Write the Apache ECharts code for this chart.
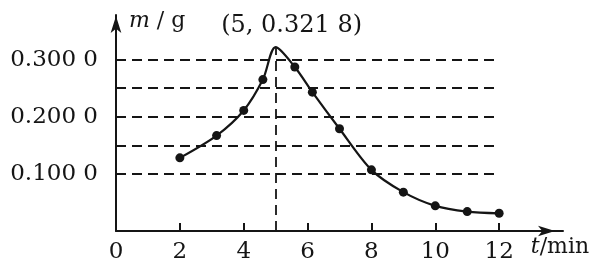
<!DOCTYPE html>
<html>
<head>
<meta charset="utf-8">
<script src="https://cdn.jsdelivr.net/npm/echarts@6/dist/echarts.min.js"></script>
<style>html,body{margin:0;padding:0;background:#fff}#c{width:595px;height:264px}</style>
</head>
<body>
<div id="c"></div>
<script>
// data
var times  = [2, 3.15, 4, 4.6, 5, 5.6, 6.15, 7, 8, 9, 10, 11, 12];
var masses = [0.128, 0.167, 0.211, 0.265, 0.3218, 0.287, 0.243, 0.179, 0.107, 0.068, 0.044, 0.034, 0.031];
var peakIndex = 4;            // (5, 0.3218) drawn without a dot
var peakLabel = '(5, 0.321 8)';
var xTickValues = [2, 4, 6, 8, 10, 12];
var xLabelValues = [0, 2, 4, 6, 8, 10, 12];
var yLabelValues = [0.1, 0.2, 0.3];
var yLabelTexts = {'0.1': '0.100 0', '0.2': '0.200 0', '0.3': '0.300 0'};
var dashedLevels = [0.1, 0.15, 0.2, 0.25, 0.3];
var xMax = 14, yMax = 0.378;

var FONT = 'DejaVu Serif';
var INK = '#151515';

var seriesData = times.map(function (t, i) {
  var item = {value: [t, masses[i]]};
  if (i === peakIndex) item.symbol = 'none';
  return item;
});

var markLines = dashedLevels.map(function (v) {
  return [{coord: [0, v]}, {coord: [xTickValues[xTickValues.length - 1], v]}];
});
markLines.push([{coord: [times[peakIndex], 0]}, {coord: [times[peakIndex], masses[peakIndex]]}]);

var chart = echarts.init(document.getElementById('c'), null, {renderer: 'canvas'});
chart.setOption({
  animation: false,
  backgroundColor: '#fff',
  grid: {left: 116, right: 32, top: 15, bottom: 33, containLabel: false},
  xAxis: {
    type: 'value', min: 0, max: xMax,
    name: '{i|t}/min',
    nameLocation: 'end', nameGap: -3,
    nameTextStyle: {
      fontFamily: FONT, fontSize: 22, color: INK, align: 'center', verticalAlign: 'middle',
      padding: [32, 0, 0, 0],
      rich: {i: {fontFamily: FONT, fontSize: 22, fontStyle: 'italic', color: INK}}
    },
    axisLine: {lineStyle: {color: INK, width: 2}, symbol: ['none', 'arrow'], symbolSize: [8, 17], symbolOffset: [0, -8]},
    axisTick: {show: true, inside: true, length: 8, lineStyle: {color: INK, width: 2}, customValues: xTickValues},
    axisLabel: {customValues: xLabelValues, fontFamily: FONT, fontSize: 23, color: INK, margin: 10},
    splitLine: {show: false}
  },
  yAxis: {
    type: 'value', min: 0, max: yMax,
    name: '{i|m} / g',
    nameLocation: 'end', nameGap: -6,
    nameTextStyle: {
      fontFamily: FONT, fontSize: 22, color: INK, align: 'left', verticalAlign: 'middle',
      padding: [0, 0, 0, 13],
      rich: {i: {fontFamily: FONT, fontSize: 22, fontStyle: 'italic', color: INK}}
    },
    axisLine: {show: true, lineStyle: {color: INK, width: 2}, symbol: ['none', 'arrow'], symbolSize: [8, 17], symbolOffset: [0, -1]},
    axisTick: {show: false},
    axisLabel: {
      customValues: yLabelValues, fontFamily: FONT, fontSize: 23, color: INK, margin: 18,
      formatter: function (v) { return yLabelTexts[String(Math.round(v * 10) / 10)] || ''; }
    },
    splitLine: {show: false}
  },
  series: [{
    type: 'line',
    data: seriesData,
    smooth: 0.3,
    symbol: 'circle',
    symbolSize: 9,
    itemStyle: {color: INK},
    lineStyle: {color: INK, width: 2.2},
    z: 5,
    markLine: {
      silent: true, symbol: ['none', 'none'], label: {show: false},
      lineStyle: {color: INK, type: [10, 6], width: 1.8},
      data: markLines
    },
    markPoint: {
      symbol: 'circle', symbolSize: 0,
      data: [{coord: [times[peakIndex], masses[peakIndex]]}],
      label: {show: true, formatter: peakLabel, position: 'inside', offset: [16, -21],
        fontFamily: FONT, fontSize: 24, color: INK}
    }
  }]
});
</script>
</body>
</html>
